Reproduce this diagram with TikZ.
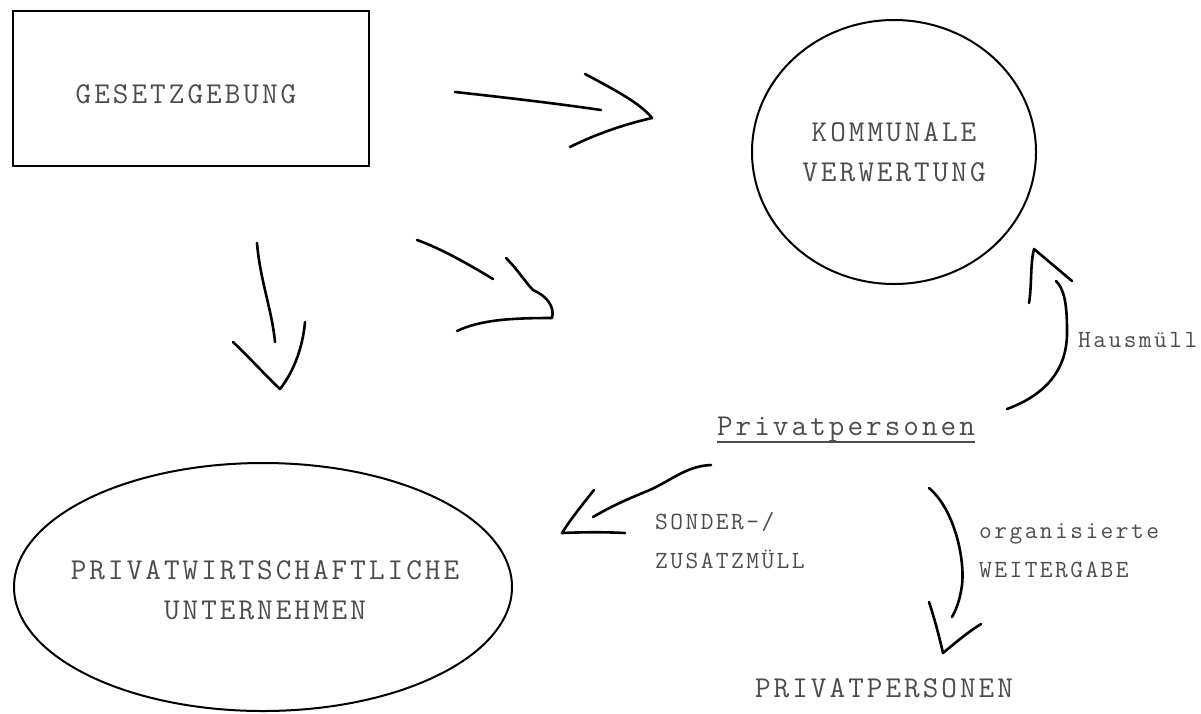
\documentclass[tikz,border=0pt]{standalone}
\usepackage{fontspec}
\newfontfamily\skfont[LetterSpace=10]{Latin Modern Mono}
\usetikzlibrary{shapes.geometric}
\definecolor{inkgray}{gray}{0.3}
\tikzset{
    pen/.style={line width=2.6pt, line cap=round, line join=round},
    boxline/.style={line width=2pt},
    bigtext/.style={font=\skfont\fontsize{30.3}{40}\selectfont, text=inkgray, align=center, inner sep=0pt},
    smalltext/.style={font=\skfont\fontsize{24.7}{39}\selectfont, text=inkgray, align=left, inner sep=0pt}
}
\begin{document}
\begin{tikzpicture}[x=1pt, y=-1pt]
    \useasboundingbox (0,0) rectangle (1201,713);

    %Gesetzgebung
    \draw[boxline] (13,11) rectangle (369,166);
    \node[bigtext] (gesetz) at (186,94) {GESETZGEBUNG};

    %Kommunale Verwertung
    \node[ellipse, draw, boxline, minimum width=284pt, minimum height=264pt, bigtext] (kommunal) at (894,152) {KOMMUNALE\\VERWERTUNG};

    %Unternehmen (ellipse drawn apart, text too wide for the shape)
    \node[ellipse, draw, boxline, minimum width=498pt, minimum height=248pt, inner sep=0pt] (firmen) at (263,587) {};
    \node[bigtext] (firmentext) at (265,590) {PRIVATWIRTSCHAFTLICHE\\UNTERNEHMEN};

    %Privatpersonen
    \node[bigtext] (privat) at (846,430) {Privatpersonen};
    \draw[inkgray, line width=1.6pt] ([yshift=-6pt]privat.base west) -- ([yshift=-6pt]privat.base east);
    \node[bigtext] (privatb) at (884,688) {PRIVATPERSONEN};

    %labels
    \node[smalltext, anchor=west] (hausm) at (1078,340) {Hausmüll};
    \node[smalltext, anchor=west] (sonder) at (655,541) {SONDER-/\\ZUSATZMÜLL};
    \node[smalltext, anchor=west] (weiter) at (979,551) {organisierte\\WEITERGABE};

    %Gesetzgebung -> Kommunale Verwertung
    \coordinate (a1s) at (455,92);
    \coordinate (a1e) at (601,110);
    \draw[pen] (a1s) .. controls (510,98) and (560,104) .. (a1e);
    \draw[pen] (585,74) .. controls (615,90) and (640,103) .. (652,118) .. controls (630,123) and (600,132) .. (570,147);

    %Gesetzgebung -> Unternehmen
    \coordinate (a2s) at (257,243);
    \coordinate (a2e) at (275,342);
    \draw[pen] (a2s) .. controls (260,280) and (272,310) .. (a2e);
    \draw[pen] (233,342) .. controls (250,358) and (265,375) .. (280,389) .. controls (295,370) and (303,345) .. (305,322);

    %Gesetzgebung -> (diagonal)
    \coordinate (a3s) at (417,240);
    \coordinate (a3e) at (493,279);
    \draw[pen] (a3s) .. controls (440,248) and (470,265) .. (a3e);
    \draw[pen] (506,258) .. controls (518,270) and (526,283) .. (533,290) .. controls (547,296) and (555,307) .. (552,318) .. controls (510,318) and (480,320) .. (457,331);

    %Privatpersonen -> Unternehmen
    \coordinate (a4s) at (711,465);
    \coordinate (a4e) at (593,517);
    \draw[pen] (a4s) .. controls (685,466) and (670,482) .. (645,492) .. controls (620,502) and (605,510) .. (a4e);
    \draw[pen] (594,490) .. controls (582,505) and (570,520) .. (562,533) .. controls (585,532) and (605,532) .. (625,533);

    %Privatpersonen -> Kommunale Verwertung
    \coordinate (a5s) at (1007,409);
    \coordinate (a5e) at (1056,281);
    \draw[pen] (a5s) .. controls (1045,395) and (1068,370) .. (1067,330) .. controls (1067,300) and (1063,288) .. (a5e);
    \draw[pen] (1029,303) .. controls (1032,285) and (1030,265) .. (1034,249) -- (1072,281);

    %Privatpersonen -> PRIVATPERSONEN
    \coordinate (a6s) at (929,488);
    \coordinate (a6e) at (952,617);
    \draw[pen] (a6s) .. controls (955,510) and (965,560) .. (962,585) .. controls (960,600) and (956,610) .. (a6e);
    \draw[pen] (929,602) .. controls (935,620) and (940,640) .. (943,653) .. controls (955,643) and (968,632) .. (981,624);
\end{tikzpicture}
\end{document}
